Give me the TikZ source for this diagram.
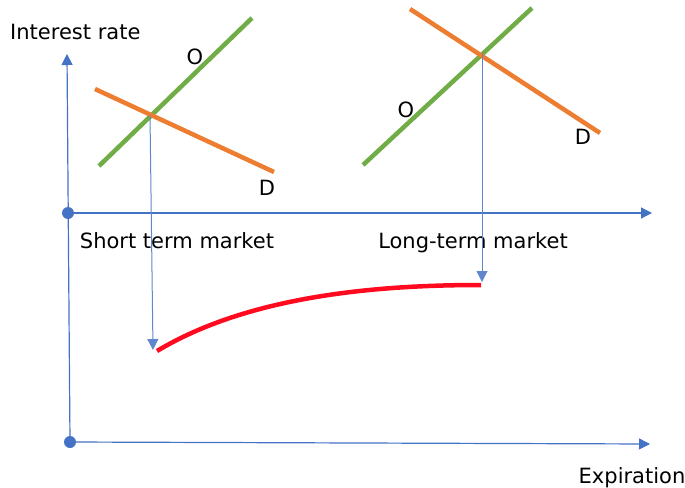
\documentclass[tikz,border=0pt]{standalone}
\usepackage{fontspec}
\setmainfont{DejaVu Sans}
\usepackage{tikz}
\usetikzlibrary{arrows.meta,calc}
\definecolor{axisblue}{HTML}{4472C4}
\definecolor{supply}{HTML}{70AD47}
\definecolor{demand}{HTML}{ED7D31}
\definecolor{yieldred}{HTML}{FF0A1E}

\begin{document}
\begin{tikzpicture}[x=1pt, y=-1pt, >={Triangle[length=11pt,width=11pt]},
    font=\fontsize{21}{25}\selectfont, inner sep=0pt,
    axis/.style={draw=axisblue, line width=1.2pt},
    drop/.style={draw=axisblue!85, line width=1pt},
    supplyline/.style={draw=supply, line width=4.5pt},
    demandline/.style={draw=demand, line width=4.5pt},
    dot/.style={circle, fill=axisblue, inner sep=0pt, minimum size=12pt}]
    \useasboundingbox (0,0) rectangle (685,487);
    % axes
    \node[dot] (orig) at (70,442) {};
    \node[dot] (mid) at (68,213) {};
    \coordinate (ytop) at (67,54);
    \coordinate (xend) at (650,444);
    \coordinate (midend) at (652,213);
    \draw[axis, ->] (orig.center) -- (ytop);
    \draw[axis, ->] (orig.center) -- (xend);
    \draw[axis, ->] (mid.center) -- (midend);
    \node[anchor=base west] (yl) at (10,40) {Interest rate};
    \node[anchor=base] (xl) at (632,483) {Expiration};
    % short term market
    \coordinate (so1) at (99,166);
    \coordinate (so2) at (252,18);
    \coordinate (sd1) at (95,89);
    \coordinate (sd2) at (274,172);
    \draw[supplyline] (so1) -- (so2);
    \draw[demandline] (sd1) -- (sd2);
    \coordinate (seq) at (150,115);
    \node (so) at (195,57) {O};
    \node (sd) at (267,188) {D};
    \node[anchor=base] (short) at (177,248) {Short term market};
    % long term market
    \coordinate (lo1) at (363,165);
    \coordinate (lo2) at (532,8);
    \coordinate (ld1) at (410,9);
    \coordinate (ld2) at (600,133);
    \draw[supplyline] (lo1) -- (lo2);
    \draw[demandline] (ld1) -- (ld2);
    \coordinate (leq) at (482,54);
    \node (lo) at (406,110) {O};
    \node (ld) at (583,137) {D};
    \node[anchor=base] (long) at (473,248) {Long-term market};
    % yield curve
    \coordinate (ys) at (157,351);
    \coordinate (ye) at (481,285);
    \draw[drop, ->] (seq) -- (153,350);
    \draw[drop, ->] (leq) -- (482,282);
    \draw[draw=yieldred, line width=4.5pt] (ys) .. controls (250,295) and (380,285) .. (ye);
\end{tikzpicture}
\end{document}
